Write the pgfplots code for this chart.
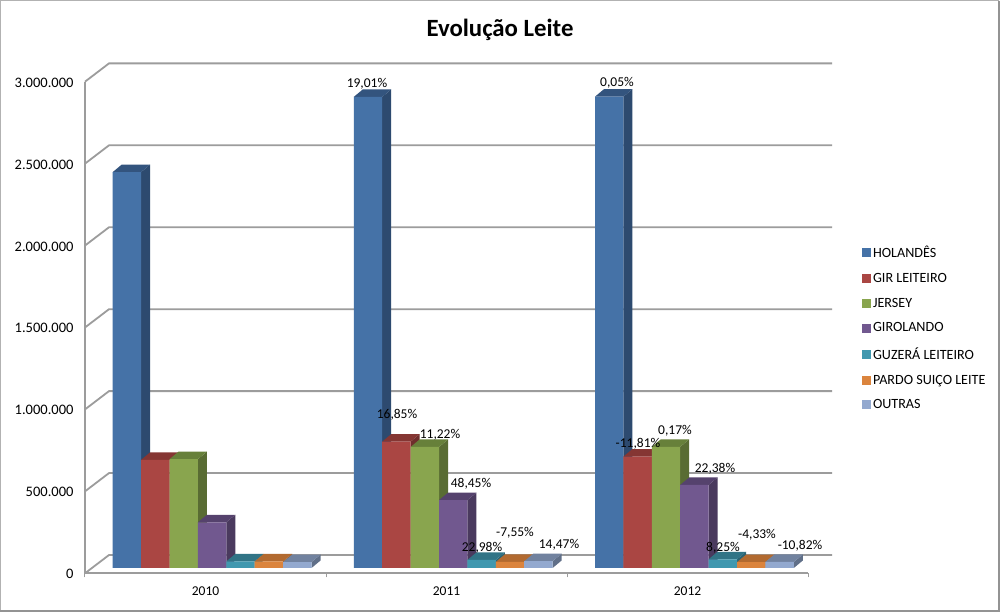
\documentclass[border=0pt]{standalone}
\usepackage{pgfplots}
\pgfplotsset{compat=1.18}
\usepackage{fontspec}
\setmainfont{Carlito}

% the axis is laid out 1pt = 1px of the reference
\definecolor{gridc}{HTML}{9C9C9C}
\definecolor{frontA}{HTML}{4572A7}\definecolor{sideA}{HTML}{2D4A6F}\definecolor{topA}{HTML}{33547E}
\definecolor{frontB}{HTML}{AA4643}\definecolor{sideB}{HTML}{6F2E2C}\definecolor{topB}{HTML}{853633}
\definecolor{frontC}{HTML}{89A54E}\definecolor{sideC}{HTML}{596C33}\definecolor{topC}{HTML}{67803A}
\definecolor{frontD}{HTML}{71588F}\definecolor{sideD}{HTML}{4A3A5E}\definecolor{topD}{HTML}{55426D}
\definecolor{frontE}{HTML}{4198AF}\definecolor{sideE}{HTML}{2B6373}\definecolor{topE}{HTML}{317486}
\definecolor{frontF}{HTML}{DB843D}\definecolor{sideF}{HTML}{8F5628}\definecolor{topF}{HTML}{B26A30}
\definecolor{frontG}{HTML}{93A9CF}\definecolor{sideG}{HTML}{606F88}\definecolor{topG}{HTML}{71829F}

% depth of a bar: 9px across, 7.5px up (7.5px = 45765 in y units)
\newcommand\cubefaces[4]{% x left, value, side colour, top colour
  \pgfmathsetmacro\xr{#1+28.4}
  \pgfmathsetmacro\xrb{#1+37.4}
  \pgfmathsetmacro\xlb{#1+9}
  \edef\vb{\the\numexpr#2+45765\relax}
  \edef\tmp{\noexpand\addplot[fill=#3,draw=none,forget plot] coordinates
    {(\xr,0)(\xrb,45765)(\xrb,\vb)(\xr,#2)};}\tmp
  \edef\tmp{\noexpand\addplot[fill=#4,draw=none,forget plot] coordinates
    {(#1,#2)(\xr,#2)(\xrb,\vb)(\xlb,\vb)};}\tmp
}
\newcommand\barseries[6]{% slot, colour set, name, 2010, 2011, 2012
  \pgfmathsetmacro\xa{112.7+28.4*#1}
  \pgfmathsetmacro\xb{353.8+28.4*#1}
  \pgfmathsetmacro\xc{595.0+28.4*#1}
  \cubefaces{\xa}{#4}{side#2}{top#2}
  \cubefaces{\xb}{#5}{side#2}{top#2}
  \cubefaces{\xc}{#6}{side#2}{top#2}
  \pgfmathsetmacro\ca{\xa+14.2}
  \pgfmathsetmacro\cb{\xb+14.2}
  \pgfmathsetmacro\cc{\xc+14.2}
  \edef\tmp{\noexpand\addplot[\unexpanded{ybar,bar width=28.4,bar shift=0pt,fill=front#2,draw=none,
      legend image code/.code={\fill[front#2] (0pt,-4.5pt) rectangle (9pt,4.5pt);}}]
    coordinates {(\ca,#4)(\cb,#5)(\cc,#6)};}\tmp
  \addlegendentry{#3}
}
\newcommand\gridlevel[1]{% front value of a y tick; 18.3px deep = 111667
  \edef\tmp{\noexpand\addplot[gridc,line width=1.8pt,forget plot] coordinates
    {(85,#1)(109,\the\numexpr#1+111667\relax)(832,\the\numexpr#1+111667\relax)};}\tmp
}

\begin{document}
\begin{tikzpicture}
\useasboundingbox (-85pt,-38.7pt) rectangle (915pt,573.3pt);
\fill[white] (-85pt,-38.7pt) rectangle (915pt,573.3pt);
\draw[gray!60,line width=1.2pt] (-84.4pt,-37.5pt) -- (-84.4pt,572.7pt) -- (913.6pt,572.7pt);
\draw[gray!85,line width=2pt] (913.6pt,572.7pt) -- (913.6pt,-37.5pt) -- (-85pt,-37.5pt);
\begin{axis}[
  anchor=south west,
  at={(0pt,0pt)},
  scale only axis,
  width=723pt,
  height=491.6pt,
  clip=false,
  xmin=85, xmax=808,
  ymin=-32340, ymax=2967660,
  axis x line*=bottom,
  axis y line*=left,
  axis line style={gridc,line width=2pt,-},
  scaled y ticks=false,
  ytick={-32340,467660,967660,1467660,1967660,2467660,2967660},
  yticklabels={0,500.000,1.000.000,1.500.000,2.000.000,2.500.000,3.000.000},
  xtick={205.5,446.5,687.5},
  xticklabels={2010,2011,2012},
  minor xtick={85,326,567,808},
  major tick length=0pt,
  minor tick length=4pt,
  tick style={gridc,line width=1pt},
  minor tick style={gridc,line width=1pt},
  tick align=outside,
  yticklabel style={font=\fontsize{14.5}{16}\selectfont,yshift=-0.8pt,xshift=-8pt},
  xticklabel style={font=\fontsize{13.5}{16}\selectfont,yshift=-10pt},
  legend style={at={(1.0745,0.670)},anchor=north west,draw=none,fill=none,
    font=\fontsize{14.1}{16}\selectfont,row sep=10.1pt,inner sep=0pt},
  legend cell align=left,
  title={\fontsize{24.8}{28}\selectfont\bfseries Evolução Leite},
  title style={at={(axis description cs:0.574,1)},anchor=center,yshift=46.2pt},
]
\gridlevel{-32340}
\gridlevel{467660}
\gridlevel{967660}
\gridlevel{1467660}
\gridlevel{1967660}
\gridlevel{2467660}
\gridlevel{2967660}

\barseries{0}{A}{HOLANDÊS}{2416000}{2875000}{2876500}
\barseries{1}{B}{GIR LEITEIRO}{660000}{771000}{680000}
\barseries{2}{C}{JERSEY}{664000}{738500}{739700}
\barseries{3}{D}{GIROLANDO}{279000}{414000}{507000}
\barseries{4}{E}{GUZERÁ LEITEIRO}{40000}{49200}{53200}
\barseries{5}{F}{PARDO SUIÇO LEITE}{40000}{37000}{35400}
\barseries{6}{G}{OUTRAS}{36000}{41200}{36700}

\begin{scope}[every node/.style={font=\fontsize{13.5}{15}\selectfont,inner sep=0pt}]
\node at (axis cs:367,2953368) {19,01\%};
\node at (axis cs:397,933606) {16,85\%};
\node at (axis cs:440,811566) {11,22\%};
\node at (axis cs:471,512568) {48,45\%};
\node at (axis cs:482,122040) {22,98\%};
\node at (axis cs:515,213570) {-7,55\%};
\node at (axis cs:559,140346) {14,47\%};
\node at (axis cs:617,2959470) {0,05\%};
\node at (axis cs:638,756648) {-11,81\%};
\node at (axis cs:675,835974) {0,17\%};
\node at (axis cs:715,604098) {22,38\%};
\node at (axis cs:723,122040) {8,25\%};
\node at (axis cs:757,201366) {-4,33\%};
\node at (axis cs:800,134244) {-10,82\%};
\end{scope}
\end{axis}
\end{tikzpicture}
\end{document}
